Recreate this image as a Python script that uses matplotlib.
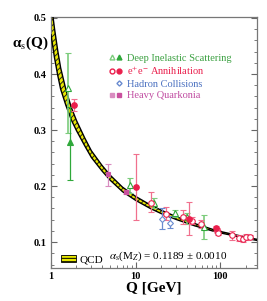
import matplotlib
matplotlib.use("Agg")
import matplotlib.pyplot as plt
from matplotlib.lines import Line2D
from matplotlib.patches import Rectangle
from matplotlib.legend_handler import HandlerTuple

plt.rcParams['font.family'] = ['Liberation Serif', 'DejaVu Serif']
plt.rcParams['mathtext.fontset'] = 'stix'
plt.rcParams['hatch.linewidth'] = 0.7

# QCD curve and band half-widths
q_curve = [1.0, 1.1, 1.2, 1.3, 1.5, 1.75, 2.0, 2.5, 3.0, 4.0, 5.0, 7.0, 10.0,
           15.0, 20.0, 30.0, 50.0, 91.2, 150.0, 270.0]
a_curve = [0.500, 0.455, 0.420, 0.392, 0.358, 0.328, 0.308, 0.279, 0.257, 0.232,
           0.215, 0.194, 0.178, 0.163, 0.154, 0.143, 0.131, 0.119, 0.112, 0.104]
a_band = [0.030, 0.026, 0.022, 0.019, 0.014, 0.011, 0.009, 0.007, 0.006, 0.005,
          0.0045, 0.004, 0.0035, 0.0032, 0.003, 0.0025, 0.002, 0.0013, 0.0011, 0.001]

# Deep inelastic scattering
dis_open_q = [1.57, 8.66, 16.4, 29.5, 40.6, 64.5]
dis_open_a = [0.375, 0.202, 0.170, 0.152, 0.145, 0.127]
dis_open_up = [0.062, 0.013, 0.009, 0.006, 0.007, 0.022]
dis_open_dn = [0.080, 0.015, 0.010, 0.007, 0.012, 0.022]
dis_full_q = [1.67]
dis_full_a = [0.279]
dis_full_up = [0.062]
dis_full_dn = [0.068]

# e+e- annihilation
ee_open_q = [15.3, 22.6, 36.0, 46.4, 59.0, 91.2, 94.0, 137.0, 165.0, 183.0, 200.0, 225.0]
ee_open_a = [0.169, 0.151, 0.145, 0.138, 0.133, 0.121, 0.117, 0.1125, 0.107, 0.105, 0.109, 0.109]
ee_open_up = [0.020, 0.012, 0.012, 0.006, 0.007, 0.004, 0.004, 0.008, 0.005, 0.005, 0.005, 0.004]
ee_open_dn = [0.016, 0.012, 0.012, 0.006, 0.007, 0.004, 0.004, 0.008, 0.005, 0.005, 0.005, 0.004]
ee_full_q = [1.86, 10.2, 43.0, 90.0]
ee_full_a = [0.345, 0.199, 0.1405, 0.1245]
ee_full_up = [0.011, 0.058, 0.031, 0.005]
ee_full_dn = [0.011, 0.060, 0.028, 0.005]

# hadron collisions
had_q = [20.4, 25.1]
had_a = [0.142, 0.134]
had_up = [0.019, 0.012]
had_dn = [0.018, 0.008]

# heavy quarkonia
hq_q = [4.72, 7.63]
hq_a = [0.221, 0.189]
hq_up = [0.018, 0.004]
hq_dn = [0.021, 0.004]

GREEN, LGREEN = '#2fa83a', '#7ccc7c'
RED, LRED = '#ea1f4c', '#f0708e'
BLUE = '#6a8bd0'
MAG, LMAG = '#c9509e', '#d98cc0'

fig = plt.figure(figsize=(2.67, 3.01), dpi=100)
ax = fig.add_axes([0.191, 0.11, 0.772, 0.834])

lo = [a - b for a, b in zip(a_curve, a_band)]
hi = [a + b for a, b in zip(a_curve, a_band)]
ax.fill_between(q_curve, lo, hi, facecolor='#e8e800', edgecolor='#222222',
                hatch='//////', linewidth=0, zorder=2)
ax.plot(q_curve, lo, color='black', lw=1.0, zorder=3)
ax.plot(q_curve, hi, color='black', lw=1.0, zorder=3)


def points(q, a, up, dn, marker, color, ecolor, filled, ms=4, elw=0.9):
    ax.errorbar(q, a, yerr=[dn, up], fmt=marker, ms=ms, color=color,
                ecolor=ecolor, mfc=color if filled else 'white', mec=color,
                mew=0.8, elinewidth=elw, capsize=2, capthick=0.8, zorder=4)


points(dis_open_q, dis_open_a, dis_open_up, dis_open_dn, '^', GREEN, LGREEN, False, elw=1.2)
points(dis_full_q, dis_full_a, dis_full_up, dis_full_dn, '^', GREEN, GREEN, True)
points(ee_open_q, ee_open_a, ee_open_up, ee_open_dn, 'o', RED, LRED, False)
points(ee_full_q, ee_full_a, ee_full_up, ee_full_dn, 'o', RED, LRED, True)
points(had_q, had_a, had_up, had_dn, 'D', BLUE, BLUE, False, ms=3)
points(hq_q, hq_a, hq_up, hq_dn, 's', MAG, LMAG, True, ms=3.5)

ax.set_xscale('log')
ax.set_xlim(1, 272)
ax.set_ylim(0.054, 0.502)
ax.set_yticks([0.1, 0.2, 0.3, 0.4, 0.5])
ax.set_yticks([0.06, 0.08, 0.12, 0.14, 0.16, 0.18, 0.22, 0.24, 0.26, 0.28,
               0.32, 0.34, 0.36, 0.38, 0.42, 0.44, 0.46, 0.48], minor=True)
ax.set_yticklabels(['0.1', '0.2', '0.3', '0.4', '0.5'])
ax.set_xticks([1, 10, 100])
ax.set_xticklabels(['1', '10', '100'])
ax.tick_params(which='both', direction='in', right=True, top=False,
               labelsize=7.5, color='#666666', pad=3)
ax.tick_params(which='major', length=4, width=0.8)
ax.tick_params(which='minor', length=2.2, width=0.6)
for lab in ax.get_xticklabels() + ax.get_yticklabels():
    lab.set_fontweight('bold')
for s in ax.spines.values():
    s.set_color('#777777')
    s.set_linewidth(0.9)

ax.set_xlabel('Q [GeV]', fontsize=11, fontweight='bold', labelpad=0)
fig.text(0.045, 0.857, r'α$_{\rm s}$(Q)', fontsize=11, fontweight='bold',
         ha='left', va='center')

none = Line2D([], [], ls='none', marker='')
handles = [
    (Line2D([], [], ls='none', marker='^', ms=3.5, mfc='white', mec=LGREEN),
     Line2D([], [], ls='none', marker='^', ms=3.5, color=GREEN)),
    (Line2D([], [], ls='none', marker='o', ms=3.5, mfc='white', mec=RED),
     Line2D([], [], ls='none', marker='o', ms=3.5, color=RED)),
    (none, Line2D([], [], ls='none', marker='D', ms=2.6, mfc='white', mec=BLUE)),
    (Line2D([], [], ls='none', marker='s', ms=3.2, color=LMAG),
     Line2D([], [], ls='none', marker='s', ms=3.5, color=MAG)),
]
labels = ['Deep Inelastic Scattering', r'e$^{+}$e$^{-}$ Annihilation',
          'Hadron Collisions', 'Heavy Quarkonia']
leg = ax.legend(handles, labels, handler_map={tuple: HandlerTuple(ndivide=None, pad=0.2)},
                loc='upper left', bbox_to_anchor=(0.28, 0.855), frameon=False,
                fontsize=7.5, handlelength=1.3, handletextpad=0.5,
                labelspacing=0.22, borderpad=0, borderaxespad=0,
                labelcolor=['#3aa040', RED, '#4a70c0', '#c04aa0'])
ax.add_artist(leg)

qcd = Rectangle((0, 0), 1, 1, facecolor='#e8e800', edgecolor='black',
                hatch='-----', linewidth=0.6)
ax.legend([qcd], ['QCD'], loc='lower left', bbox_to_anchor=(0.05, 0.015),
          frameon=False, fontsize=8, handlelength=1.3, handleheight=0.6,
          handletextpad=0.3, borderpad=0, borderaxespad=0)
ax.text(0.28, 0.045, r'$\alpha_{\rm s}$(M$_{Z}$) = 0.1189 ± 0.0010',
        transform=ax.transAxes, fontsize=8, ha='left', va='center')

fig.savefig('out.png', dpi=100)
